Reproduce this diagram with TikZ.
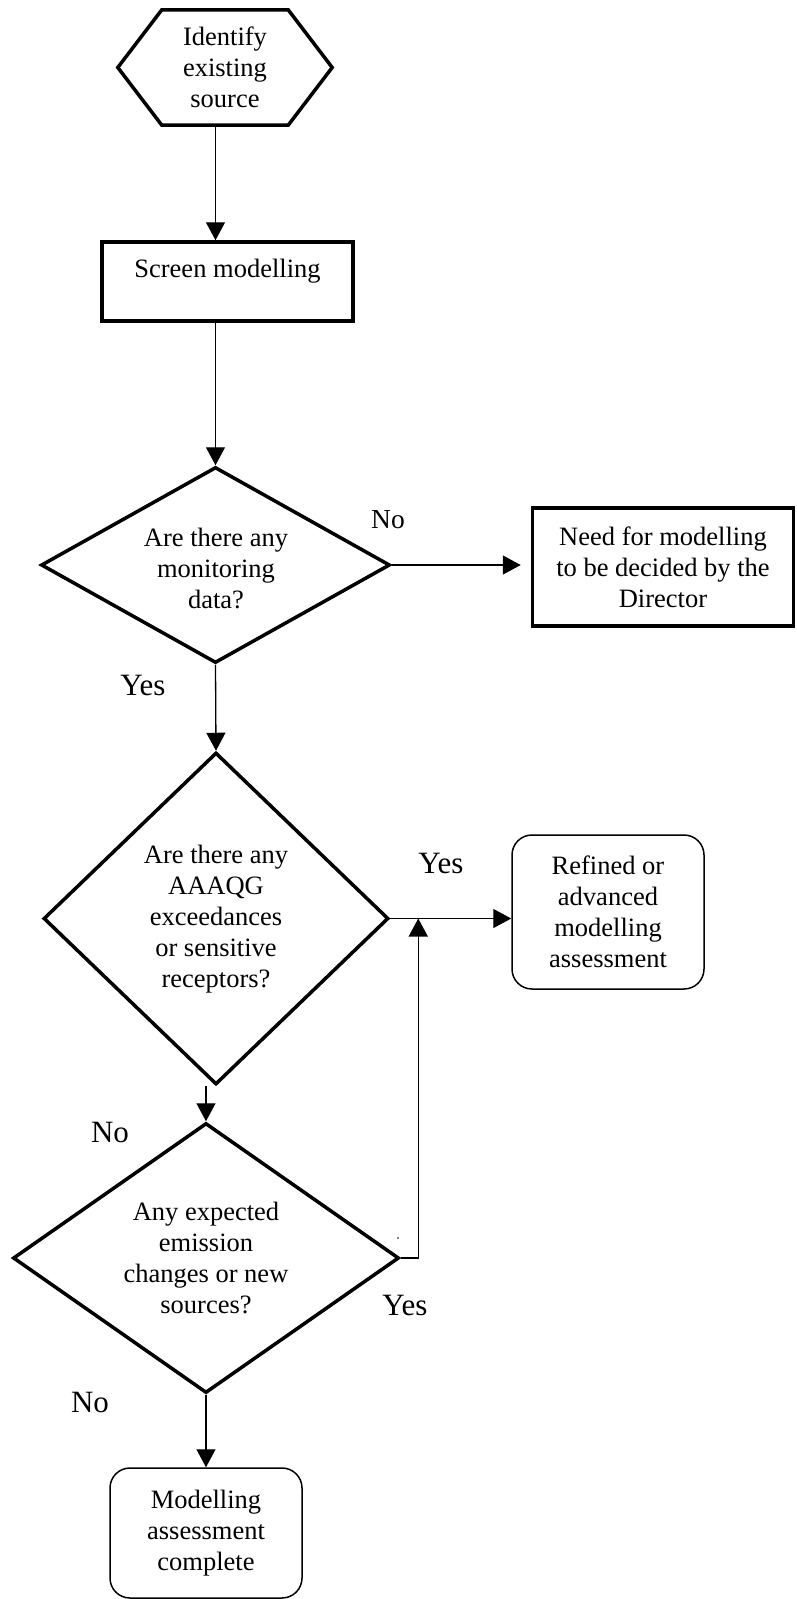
\documentclass[tikz,border=0pt]{standalone}
\usepackage{fontspec}
\setmainfont{Liberation Serif}
\usetikzlibrary{shapes.geometric,arrows.meta,calc}
\newcommand{\mainsize}{\fontsize{26.5}{31}\selectfont}
\newcommand{\lblsize}{\fontsize{31}{36}\selectfont}
\newcommand{\lblsmall}{\fontsize{27.5}{32}\selectfont}
\begin{document}
\begin{tikzpicture}[x=1pt,y=-1pt,
  conn/.style={line width=1.3pt,-{Triangle[length=18pt,width=19pt]}},
  decision/.style={diamond,draw,line width=3.5pt,inner sep=0pt,line join=miter},
  boxthick/.style={rectangle,draw,line width=3.5pt},
  roundbox/.style={rectangle,rounded corners=20pt,draw,line width=1.5pt},
  txt/.style={align=center,font=\mainsize},
  one/.style={font=\mainsize,anchor=base,inner sep=0pt},
  lbl/.style={font=\lblsize,anchor=base,inner sep=0pt},
  lbls/.style={font=\lblsmall,anchor=base,inner sep=0pt}]
\useasboundingbox (0,0) rectangle (796,1599);

% start: hexagon
\node[txt,minimum width=214pt,minimum height=115pt,inner sep=0pt] (hex) at (225,67.5) {Identify\\existing\\source};
\draw[line width=3.5pt,line join=miter]
  ($(hex.north west)+(44,0)$) -- ($(hex.north east)+(-44,0)$) -- (hex.east)
  -- ($(hex.south east)+(-44,0)$) -- ($(hex.south west)+(44,0)$) -- (hex.west) -- cycle;

% screen modelling
\node[boxthick,minimum width=251pt,minimum height=79pt] (scr) at (227.5,281.5) {};
\node[one] (scrtxt) at (227.5,277) {Screen modelling};

% first decision
\node[decision,minimum width=349pt,minimum height=196pt] (d1) at (215.5,565) {};
\node[txt] (d1txt) at (216,568) {Are there any\\monitoring\\data?};

\node[boxthick,txt,minimum width=261pt,minimum height=118pt] (dir) at (663,567)
  {Need for modelling\\to be decided by the\\Director};

% second decision
\node[decision,minimum width=345pt,minimum height=332pt] (d2) at (216,918.5) {};
\node[txt] (d2txt) at (216,919) {Are there any\\AAAQG\\exceedances\\or sensitive\\receptors?};

\node[roundbox,txt,minimum width=192pt,minimum height=154pt] (ref) at (608,912)
  {Refined or\\advanced\\modelling\\assessment};

% third decision
\node[decision,minimum width=386pt,minimum height=270pt] (d3) at (206,1258) {};
\node[txt] (d3txt) at (206,1258) {Any expected\\emission\\changes or new\\sources?};

\node[roundbox,txt,minimum width=192pt,minimum height=130pt] (fin) at (206,1533)
  {Modelling\\assessment\\complete};

% connectors
\coordinate (join) at ($(d2.east)+(28,0)$);
\draw[conn] (hex.south -| d1.north) -- (scr.north -| d1.north);
\draw[conn] (scr.south -| d1.north) -- (d1.north);
\draw[conn,shorten >=10pt] (d1.east) -- (dir.west |- d1.east);
\draw[conn] (d1.south) -- (d2.north);
\draw[conn] (d2.east) -- (d2.east -| ref.west);
\draw[conn] (d2.south -| d3.north) -- (d3.north);
\draw[conn] (d3.east) -| (join);
\draw[conn] (d3.south) -- (fin.north);

% branch labels
\node[lbls] (noA) at (388,528) {No};
\node[lbl] (yesA) at (143,695) {Yes};
\node[lbl] (yesB) at (441,873) {Yes};
\node[lbl] (noB) at (110,1142) {No};
\node[lbl] (yesC) at (405,1315) {Yes};
\node[lbl] (noC) at (90,1412) {No};

\fill (398,1238) circle (0.9pt);
\end{tikzpicture}
\end{document}
